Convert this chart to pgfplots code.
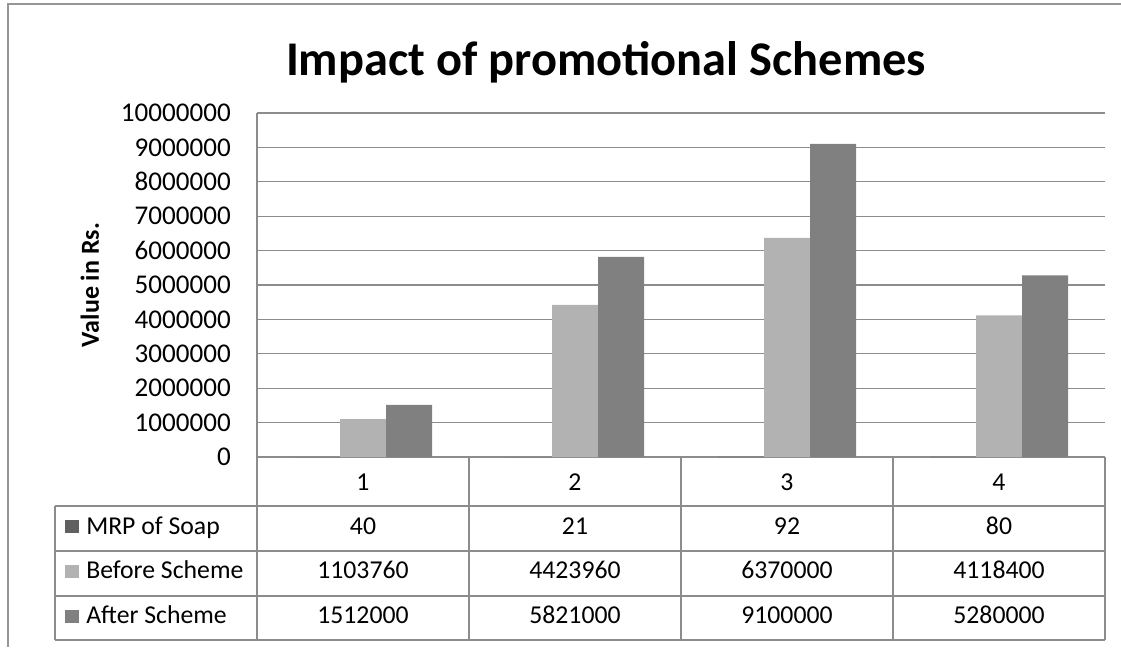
\documentclass[border=0pt]{standalone}
\usepackage{pgfplots}
\pgfplotsset{compat=1.18}
\usepackage{pgfplotstable}
\usepackage{fontspec}
\setmainfont{Carlito}
\definecolor{mrp}{RGB}{96,96,96}
\definecolor{before}{RGB}{178,178,178}
\definecolor{after}{RGB}{128,128,128}
\definecolor{gridc}{RGB}{140,140,140}
\definecolor{framec}{RGB}{150,150,150}
\pgfplotstableread{
cat mrp before after
1 40 1103760 1512000
2 21 4423960 5821000
3 92 6370000 9100000
4 80 4118400 5280000
}\datatab
\begin{document}
\begin{tikzpicture}
\begin{scope}[x=0.75pt,y=0.75pt]
\useasboundingbox (0,0) rectangle (1121,647);
\draw[framec, line width=1.5pt] (8,0) -- (8,643) -- (1121,643);
\node[font=\fontsize{36.3}{42}\selectfont\bfseries] at (606,585) {Impact of promotional Schemes};
\end{scope}
\begin{axis}[
  at={(192.75pt,142.5pt)}, anchor=origin,
  scale only axis, width=636pt, height=258pt,
  xmin=0.5, xmax=4.5, ymin=0, ymax=10000000,
  ytick={0,1000000,...,10000000},
  xtick=\empty,
  ymajorgrids, grid style={gridc, line width=0.8pt},
  axis x line*=bottom, axis y line*=left,
  axis line style={gridc, line width=0.8pt},
  major tick length=0pt,
  /pgf/number format/assume math mode=true,
  /pgf/number format/fixed, /pgf/number format/1000 sep={},
  scaled y ticks=false,
  yticklabel style={font=\fontsize{20.3}{23}\selectfont, anchor=east, inner sep=0pt, xshift=-19.5pt},
  ylabel={\textbf{Value in Rs.}},
  ylabel style={font=\fontsize{19.5}{22}\selectfont, at={(axis description cs:-0.197,0.5)}, anchor=center},
  ybar=0pt, bar width=34.5pt,
  clip=false,
]
\addplot[fill=mrp, draw=none] table[x=cat, y=mrp] {\datatab};
\addplot[fill=before, draw=none] table[x=cat, y=before] {\datatab};
\addplot[fill=after, draw=none] table[x=cat, y=after] {\datatab};
\end{axis}
\begin{scope}[x=0.75pt,y=0.75pt]
% data table grid
\begin{scope}[gridc, line width=0.8pt]
\draw (257,190) -- (257,7);
\foreach \xx in {469,681,893,1105} \draw (\xx,190) -- (\xx,7);
\draw (55,141) -- (55,7);
\foreach \yy in {141,96,51,7} \draw (55,\yy) -- (1105,\yy);
\end{scope}
\begin{scope}[font=\fontsize{19.3}{22}\selectfont, every node/.style={anchor=base, inner sep=0pt}]
\foreach \c/\xx in {1/363,2/575,3/787,4/999} \node at (\xx,157) {\c};
\foreach \v/\xx in {40/363,21/575,92/787,80/999} \node at (\xx,112.5) {\v};
\foreach \v/\xx in {1103760/363,4423960/575,6370000/787,4118400/999} \node at (\xx,69) {\v};
\foreach \v/\xx in {1512000/363,5821000/575,9100000/787,5280000/999} \node at (\xx,24) {\v};
\fill[mrp] (65,114) rectangle (79,127);
\fill[before] (65,69) rectangle (79,82);
\fill[after] (65,24) rectangle (79,37.5);
\node[anchor=base west] at (86,112.5) {MRP of Soap};
\node[anchor=base west] at (86,69) {Before Scheme};
\node[anchor=base west] at (86,24) {After Scheme};
\end{scope}
\end{scope}
\end{tikzpicture}
\end{document}
